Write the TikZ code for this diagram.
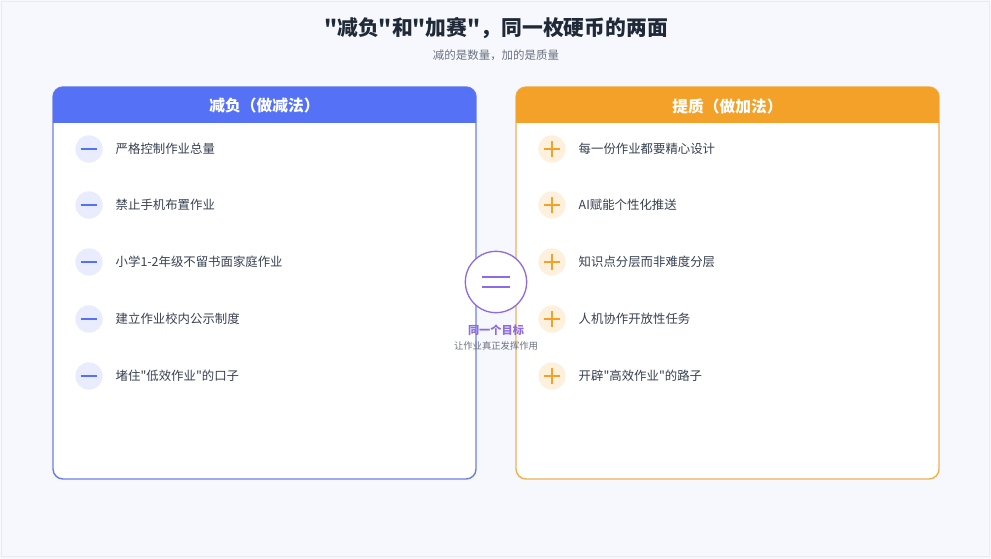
\documentclass[tikz,border=0pt]{standalone}
\usepackage{fontspec}
\setmainfont{Noto Sans CJK SC}[Ligatures=TeXOff]
\usetikzlibrary{positioning}
\definecolor{bgpage}{HTML}{F6F8FD}
\definecolor{edgegray}{HTML}{E8EBF2}
\definecolor{titledark}{HTML}{1F2937}
\definecolor{subgray}{HTML}{6B7280}
\definecolor{itemdark}{HTML}{374151}
\definecolor{cutblue}{HTML}{5572F7}
\definecolor{cutborder}{HTML}{6D7FE6}
\definecolor{cutsoft}{HTML}{E9ECFC}
\definecolor{addorange}{HTML}{F4A129}
\definecolor{addborder}{HTML}{F2B055}
\definecolor{addsoft}{HTML}{FDF0DD}
\definecolor{goalpurple}{HTML}{8E6BE3}

\begin{document}
\begin{tikzpicture}[x=0.75pt, y=-0.75pt,
  titletext/.style={text=titledark, font=\fontsize{15.6}{19}\selectfont\bfseries, inner sep=0pt},
  subtext/.style={text=subgray, font=\fontsize{8.6}{10}\selectfont, inner sep=0pt},
  headtext/.style={text=white, font=\fontsize{11.8}{14}\selectfont\bfseries, inner sep=0pt},
  itemtext/.style={text=itemdark, font=\fontsize{9.3}{11}\selectfont, inner sep=0pt, anchor=west},
  cuticon/.style={circle, fill=cutsoft, minimum size=20.5pt, inner sep=0pt},
  addicon/.style={circle, fill=addsoft, minimum size=20.5pt, inner sep=0pt},
  eqcircle/.style={circle, draw=goalpurple, line width=1pt, fill=white, minimum size=46pt, inner sep=0pt}
]

% Background
\fill[bgpage] (0,0) rectangle (991,559);
\draw[edgegray, line width=0.5pt] (1,1) rectangle (989,556);
\useasboundingbox (0,0) rectangle (991,559);

% Title
\node[titletext] (title) at (496,28) {"减负"和"加赛"，同一枚硬币的两面};
\node[subtext] (subtitle) at (496,55) {减的是数量，加的是质量};

% Left card: cut the load
\draw[cutborder, line width=1.1pt, fill=white, rounded corners=7.5pt] (53,87) rectangle (476,479);
\fill[cutblue] (53,123) [rounded corners=7.5pt] -- (53,87) -- (476,87) [sharp corners] -- (476,123) -- cycle;
\node[headtext] (cuthead) at (264.5,106) {减负（做减法）};

\foreach \i/\txt in {1/严格控制作业总量,2/禁止手机布置作业,3/小学1-2年级不留书面家庭作业,4/建立作业校内公示制度,5/堵住"低效作业"的口子} {
    \node[cuticon] (cut\i) at (89,{149+floor((\i-1)*56.75)}) {};
    \draw[cutblue, line width=1.6pt] ([xshift=-6.3pt]cut\i.center) -- ([xshift=6.3pt]cut\i.center);
    \node[itemtext, right=9.4pt of cut\i] (cuttext\i) {\txt};
}

% Right card: raise the quality
\draw[addborder, line width=1.1pt, fill=white, rounded corners=7.5pt] (516,87) rectangle (939,479);
\fill[addorange] (516,123) [rounded corners=7.5pt] -- (516,87) -- (939,87) [sharp corners] -- (939,123) -- cycle;
\node[headtext] (addhead) at (727.5,106) {提质（做加法）};

\foreach \i/\txt in {1/每一份作业都要精心设计,2/AI赋能个性化推送,3/知识点分层而非难度分层,4/人机协作开放性任务,5/开辟"高效作业"的路子} {
    \node[addicon] (add\i) at (552,{149+floor((\i-1)*56.75)}) {};
    \draw[addorange, line width=1.6pt] ([xshift=-6.3pt]add\i.center) -- ([xshift=6.3pt]add\i.center);
    \draw[addorange, line width=1.6pt] ([yshift=-6.3pt]add\i.center) -- ([yshift=6.3pt]add\i.center);
    \node[itemtext, right=9.4pt of add\i] (addtext\i) {\txt};
}

% Same goal in the middle
\node[eqcircle] (goal) at (496,282) {};
\draw[goalpurple, line width=1.8pt] ([xshift=-10.5pt,yshift=3.8pt]goal.center) -- ([xshift=10.5pt,yshift=3.8pt]goal.center);
\draw[goalpurple, line width=1.8pt] ([xshift=-10.5pt,yshift=-3.8pt]goal.center) -- ([xshift=10.5pt,yshift=-3.8pt]goal.center);
\node[text=goalpurple, font=\fontsize{8.4}{10}\selectfont\bfseries, inner sep=0pt] (goaltitle) at (496,330) {同一个目标};
\node[text=subgray, font=\fontsize{7}{8}\selectfont, inner sep=0pt] (goalsub) at (496,346) {让作业真正发挥作用};

\end{tikzpicture}
\end{document}
